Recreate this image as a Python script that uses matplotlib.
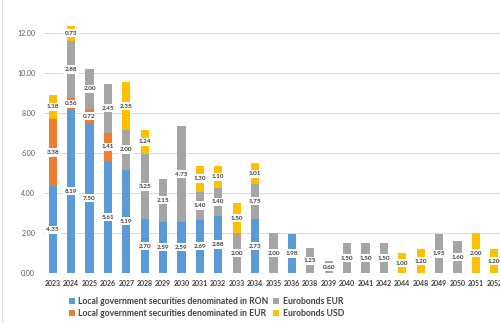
import matplotlib
matplotlib.use("Agg")
import matplotlib.pyplot as plt
import numpy as np

# maturity years (chart is cropped at the right, 2052 is cut)
years = ["2023", "2024", "2025", "2026", "2027", "2028", "2029", "2030", "2031",
         "2032", "2033", "2034", "2035", "2036", "2038", "2039", "2040", "2041",
         "2042", "2044", "2048", "2049", "2050", "2051", "2052"]

ron = [4.35, 8.19, 7.50, 5.61, 5.19, 2.70, 2.59, 2.59, 2.69, 2.88, 0, 2.73, 0,
       1.98, 0, 0, 0, 0, 0, 0, 0, 0, 0, 0, 0]
eur_local = [3.38, 0.56, 0.72, 1.41, 0, 0, 0, 0, 0, 0, 0, 0, 0, 0, 0, 0, 0, 0,
             0, 0, 0, 0, 0, 0, 0]
euro_eur = [0, 2.88, 2.00, 2.45, 2.00, 3.25, 2.15, 4.75, 1.40, 1.40, 2.00, 1.75,
            2.00, 0, 1.25, 0.60, 1.50, 1.50, 1.50, 0, 0, 1.95, 1.60, 0, 0]
euro_usd = [1.18, 0.73, 0, 0, 2.35, 1.24, 0, 0, 1.30, 1.10, 1.50, 1.01, 0, 0, 0,
            0, 0, 0, 0, 1.00, 1.20, 0, 0, 2.00, 1.20]

series = [
    ("Local government securities denominated in RON", ron, "#5B9BD5"),
    ("Local government securities denominated in EUR", eur_local, "#ED7D31"),
    ("Eurobonds EUR", euro_eur, "#A5A5A5"),
    ("Eurobonds USD", euro_usd, "#FFC000"),
]

plt.rcParams["font.family"] = ["Lato", "DejaVu Sans"]

fig = plt.figure(figsize=(5.0, 3.23), dpi=100)
# axes run past the right edge on purpose: the reference is a cropped chart
ax = fig.add_axes([43.5 / 500, 49.7 / 323, 460 / 500, 280 / 323])

x = np.arange(len(years))
bottom = np.zeros(len(years))
handles = []
for name, vals, color in series:
    vals = np.array(vals, dtype=float)
    b = ax.bar(x, vals, width=0.44, bottom=bottom, color=color, label=name,
               edgecolor="none", zorder=2)
    handles.append(b)
    for xi, v, b0 in zip(x, vals, bottom):
        if v > 0:
            ax.text(xi, b0 + v / 2, f"{v:.2f}", ha="center", va="center",
                    fontsize=4.6, fontweight="bold", color="#404040", zorder=4,
                    bbox=dict(boxstyle="square,pad=0.25", fc="white", ec="none"))
    bottom += vals

ax.set_xlim(-0.5, len(years) - 0.5)
ax.set_ylim(0, 14)
ax.set_yticks(np.arange(0, 13, 2))
ax.set_yticklabels([f"{v:.2f}" for v in np.arange(0, 13, 2)])
ax.set_xticks(x)
ax.set_xticklabels(years, fontweight="bold")
ax.tick_params(axis="y", labelsize=5, colors="#595959", length=0, pad=6)
ax.tick_params(axis="x", labelsize=5, colors="#404040", length=0, pad=5)
ax.grid(axis="y", color="#D9D9D9", linewidth=0.7, zorder=0)
ax.set_axisbelow(True)
for s in ax.spines.values():
    s.set_visible(False)

# faint chart border on the left
fig.add_artist(plt.Line2D([2 / 500, 2 / 500], [0, 1], color="#E0E0E0", linewidth=0.8))

fig.legend(handles=handles, loc="upper left", bbox_to_anchor=(69 / 500, 1 - 297 / 323),
           ncol=2, frameon=False, prop={"size": 6.2, "weight": "bold"},
           handlelength=0.7, handleheight=0.7, handletextpad=0.4,
           columnspacing=0.5, labelspacing=0.3, labelcolor="#404040",
           borderpad=0, borderaxespad=0)

fig.savefig("out.png", dpi=100)
